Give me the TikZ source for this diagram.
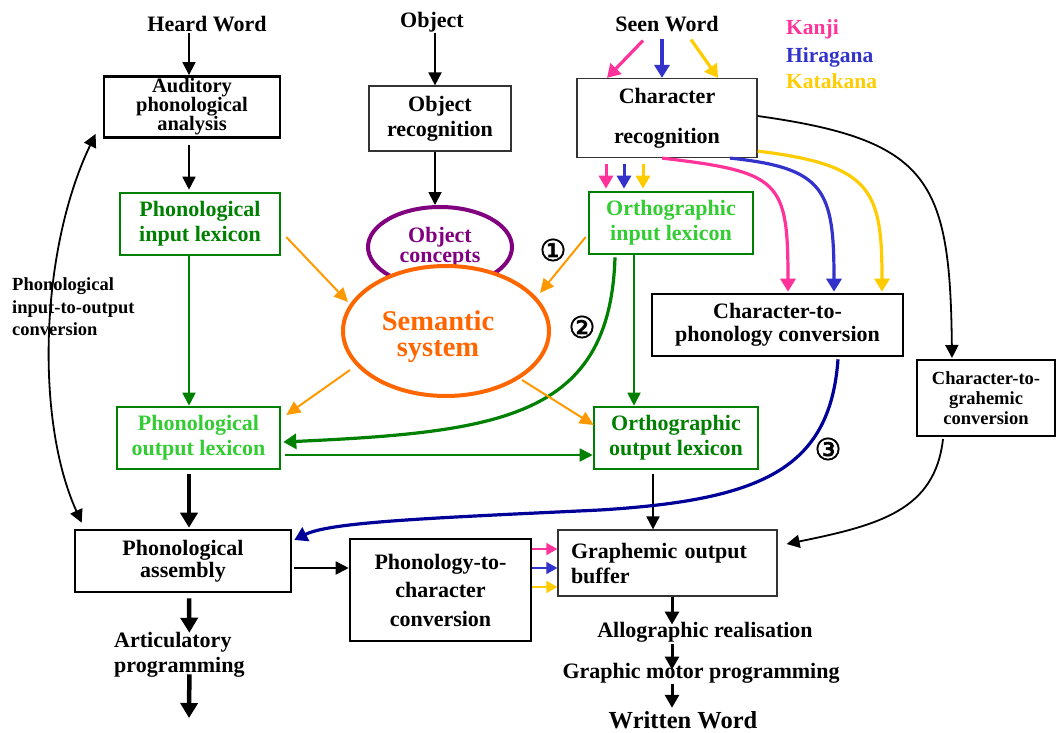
\documentclass[tikz,border=0pt]{standalone}
\usepackage{fontspec}
\setmainfont{Liberation Serif}
\newfontfamily\circfont{DejaVu Sans}[FakeBold=2]
\usetikzlibrary{arrows.meta,shapes.geometric}

\definecolor{dkgreen}{HTML}{008000}
\definecolor{ltgreen}{HTML}{33CC33}
\definecolor{kanji}{HTML}{FF3399}
\definecolor{hira}{HTML}{3333CC}
\definecolor{kata}{HTML}{FFCC00}
\definecolor{navy}{HTML}{000099}
\definecolor{semorange}{HTML}{FF6600}
\definecolor{linkorange}{HTML}{FF9900}
\definecolor{concept}{HTML}{800080}
\definecolor{thinedge}{HTML}{333333}

% let lines sit closer than their glyph extents would normally allow
\newcommand\tightlines{\lineskiplimit=-30pt\lineskip=0pt}

\begin{document}
\begin{tikzpicture}[x=1pt,y=-1pt,
  every node/.style={inner sep=0pt},
  txt/.style={font=\bfseries\fontsize{22}{25}\selectfont},
  boxthick/.style={draw=black, line width=2.6pt, align=center, txt},
  boxthin/.style={draw=thinedge, line width=1.2pt, align=center, txt},
  boxgreen/.style={draw=dkgreen, line width=2.6pt, align=center, txt},
  arr/.style={-{Triangle[length=13pt,width=13pt]}, line width=1.8pt},
  arrbig/.style={-{Triangle[length=15pt,width=17pt]}, line width=4.5pt},
  arrmid/.style={-{Triangle[length=13pt,width=14pt]}, line width=3pt},
  arrsmall/.style={-{Triangle[length=11pt,width=12pt]}, line width=1.5pt},
  arrcol/.style={-{Triangle[length=13pt,width=15pt]}, line width=3.2pt},
  arrg/.style={-{Triangle[length=13pt,width=13pt]}, line width=1.8pt, dkgreen},
  arro/.style={-{Triangle[length=14pt,width=13pt]}, line width=2pt, linkorange},
  circnum/.style={font=\circfont\fontsize{30}{30}\selectfont}
]
\useasboundingbox (0,0) rectangle (1057,733);

% ---- inputs and legend ----
\node[txt, anchor=base] (heard) at (207,32) {Heard Word};
\node[txt, anchor=base] (obj) at (432,28) {Object};
\node[txt, anchor=base] (seen) at (667,32) {Seen Word};
\node[anchor=base west, text=kanji, font=\bfseries\fontsize{21.5}{25}\selectfont] (lgk) at (786,35) {Kanji};
\node[anchor=base west, text=hira, font=\bfseries\fontsize{21.5}{25}\selectfont] (lgh) at (786,63) {Hiragana};
\node[anchor=base west, text=kata, font=\bfseries\fontsize{21.5}{25}\selectfont] (lgt) at (786,89) {Katakana};

% ---- boxes ----
\node[boxthick, line width=2.8pt, minimum width=176, minimum height=61,
      font=\bfseries\fontsize{20.5}{19}\selectfont\tightlines] (aud) at (192,107)
      {Auditory\\phonological\\analysis};
\node[boxthin, minimum width=142, minimum height=65] (objrec) at (440,118.5)
      {Object\\recognition};
\node[boxthin, minimum width=180, minimum height=79,
      font=\bfseries\fontsize{22}{40}\selectfont] (charrec) at (667,118)
      {Character\\recognition};
\node[boxgreen, minimum width=160, minimum height=62, text=dkgreen] (pil) at (200,224)
      {Phonological\\input lexicon};
\node[boxgreen, minimum width=164, minimum height=62, text=ltgreen] (oil) at (671,223)
      {Orthographic\\input lexicon};
\node[boxthick, minimum width=251, minimum height=62,
      font=\bfseries\fontsize{22}{23}\selectfont] (c2p) at (777.5,325)
      {Character-to-\\phonology conversion};
\node[boxthick, line width=2pt, minimum width=138, minimum height=76,
      font=\bfseries\fontsize{18.5}{20}\selectfont\tightlines] (c2g) at (986,398)
      {Character-to-\\grahemic\\conversion};
\node[boxgreen, minimum width=163, minimum height=62, text=ltgreen] (pol) at (198.5,438)
      {Phonological\\output lexicon};
\node[boxgreen, minimum width=164, minimum height=62, text=dkgreen] (ool) at (676,438)
      {Orthographic\\output lexicon};
\node[boxthick, minimum width=216, minimum height=62,
      font=\bfseries\fontsize{22}{22}\selectfont\tightlines] (asm) at (183,561)
      {Phonological\\assembly};
\node[boxthick, minimum width=181, minimum height=102,
      font=\bfseries\fontsize{22}{28.5}\selectfont] (p2c) at (440.5,590)
      {Phonology-to-\\character\\conversion};
\node[boxthin, align=left, text width=193, inner xsep=13, minimum height=66] (gob) at (667.5,563)
      {Graphemic output\\buffer};

% ---- concept ellipses ----
\node[ellipse, draw=concept, line width=4pt, minimum width=144, minimum height=80,
      font=\bfseries\fontsize{22}{20}\selectfont\tightlines, text=concept, align=center]
      (objcon) at (440,247) {Object\\concepts};
\node[ellipse, draw=semorange, fill=white, line width=4pt,
      minimum width=206, minimum height=130] (sem) at (446,331) {};
\node[align=center, text=semorange, font=\bfseries\fontsize{28.5}{26}\selectfont\tightlines]
      (semtxt) at (438,337) {Semantic\\system};

% ---- free labels ----
\node[anchor=west, align=left, font=\bfseries\fontsize{18.5}{22.5}\selectfont\tightlines] (pio) at (12,307)
      {Phonological\\input-to-output\\conversion};
\node[anchor=west, align=left, txt] (artic) at (114,654.5)
      {Articulatory\\programming};
\node[txt, anchor=base] (allo) at (705,637) {Allographic realisation};
\node[anchor=base, font=\bfseries\fontsize{22}{24}\selectfont] (gmp) at (701,678)
      {Graphic motor programming};
\node[anchor=base, font=\bfseries\fontsize{24.5}{27}\selectfont] (ww) at (683,728) {Written Word};
\node[circnum] (n1) at (553,250) {①};
\node[circnum] (n2) at (582,327) {②};
\node[circnum] (n3) at (828,449) {③};
\coordinate (artend) at (189,718);

% ---- top-level arrows ----
\draw[arr] ([xshift=-3]aud.north |- heard.south) -- ([xshift=-3]aud.north);
\draw[arr] ([xshift=-5]objrec.north |- obj.south) -- ([xshift=-5]objrec.north);
\draw[arr] ([xshift=-5]objrec.south) -- ([xshift=-5]objcon.north);
\draw[arrcol, kanji] ([shift={(-24,8)}]seen.south) -- ([shift={(-60,0)}]charrec.north);
\draw[arrcol, hira] ([shift={(-5,6)}]seen.south) -- ([shift={(-5,0)}]charrec.north);
\draw[arrcol, kata] ([shift={(24,7)}]seen.south) -- ([shift={(51,0)}]charrec.north);

% script-specific links into the orthographic input lexicon
\draw[arrmid, kanji] ([shift={(-61,6)}]charrec.south) -- ([shift={(-65,-2)}]oil.north);
\draw[arrmid, hira] ([shift={(-43,6)}]charrec.south) -- ([shift={(-47,-2)}]oil.north);
\draw[arrmid, kata] ([shift={(-24,6)}]charrec.south) -- ([shift={(-28,-2)}]oil.north);

% script-specific links into character-to-phonology conversion
\draw[arrcol, kanji] ([shift={(-5,0)}]charrec.south) .. controls (780,172) and (788,180) .. ([shift={(10.5,-1)}]c2p.north);
\draw[arrcol, hira] ([shift={(63,0)}]charrec.south) .. controls (825,168) and (834,190) .. ([shift={(56.5,-1)}]c2p.north);
\draw[arrcol, kata] ([shift={(0,-7)}]charrec.south east) .. controls (872,165) and (882,190) .. ([shift={(104.5,-1)}]c2p.north);
\draw[arr] ([shift={(0,-2)}]charrec.east) .. controls (930,140) and (950,180) .. ([shift={(-34,-1)}]c2g.north);

% ---- phonological route ----
\draw[arr] ([shift={(-3,6)}]aud.south) -- ([shift={(-11,-2)}]pil.north);
\draw[arrg] ([shift={(-11,0)}]pil.south) -- ([shift={(-9.5,0)}]pol.north);
\draw[arrg] ([shift={(-37,0)}]oil.south) -- ([shift={(-42,0)}]ool.north);
\draw[arrg] ([shift={(4,17)}]pol.east) -- ([shift={(0,17)}]ool.west);
\draw[arrcol, dkgreen, line width=3.2pt] ([shift={(-56,2)}]oil.south)
      .. controls +(-5,160) and +(218,-10) .. ([shift={(2,4)}]pol.east);

% ---- semantic links ----
\draw[arro] ([shift={(5,13)}]pil.east) -- ([shift={(-98,-29)}]sem.center);
\draw[arro] ([shift={(-2,14)}]oil.west) -- ([shift={(94,-38)}]sem.center);
\draw[arro] ([shift={(-96,39)}]sem.center) -- ([shift={(5,-23)}]pol.east);
\draw[arro] ([shift={(76,49)}]sem.center) -- ([shift={(1,-13)}]ool.west);

% ---- output side ----
\draw[arrbig] ([shift={(-9.5,4)}]pol.south) -- ([shift={(6,-1)}]asm.north);
\draw[arrbig] ([shift={(6,5)}]asm.south) -- ([shift={(10,1)}]artic.north);
\draw[arrbig] ([shift={(10,-3)}]artic.south) -- (artend);
\draw[arr] ([shift={(2,7)}]asm.east) -- ([shift={(0,-22)}]p2c.west);
\draw[arrsmall, kanji] ([shift={(0,-41)}]p2c.east) -- ([shift={(0,-14)}]gob.west);
\draw[arrsmall, hira] ([shift={(0,-22)}]p2c.east) -- ([shift={(0,5)}]gob.west);
\draw[arrsmall, kata] ([shift={(0,-3)}]p2c.east) -- ([shift={(0,24)}]gob.west);
\draw[arr] ([shift={(-23,4)}]ool.south) -- ([shift={(-14.5,0)}]gob.north);
\draw[arrmid] ([shift={(4.5,0)}]gob.south) -- ([shift={(-33,3)}]allo.north);
\draw[arrmid] ([shift={(-33,1.5)}]allo.south) -- ([shift={(-29,7)}]gmp.north);
\draw[arrmid] ([shift={(-29,0.5)}]gmp.south) -- ([shift={(-11,-3)}]ww.north);

\draw[arrcol, navy] ([shift={(60.5,2)}]c2p.south)
      .. controls (830,470) and (760,500) .. (600,510)
      .. controls (430,518) and (330,522) .. ([shift={(2,-21)}]asm.east);
\draw[arr] ([shift={(-43,2)}]c2g.south) .. controls (935,510) and (880,525) .. ([shift={(9,-19)}]gob.east);

% ---- phonological input-to-output loop ----
\draw[{Triangle[length=13pt,width=13pt]}-{Triangle[length=13pt,width=13pt]}, line width=1.8pt]
      ([shift={(-7,-5)}]aud.south west) .. controls (40,250) and (35,420) .. ([shift={(8,-6)}]asm.north west);
\end{tikzpicture}
\end{document}
